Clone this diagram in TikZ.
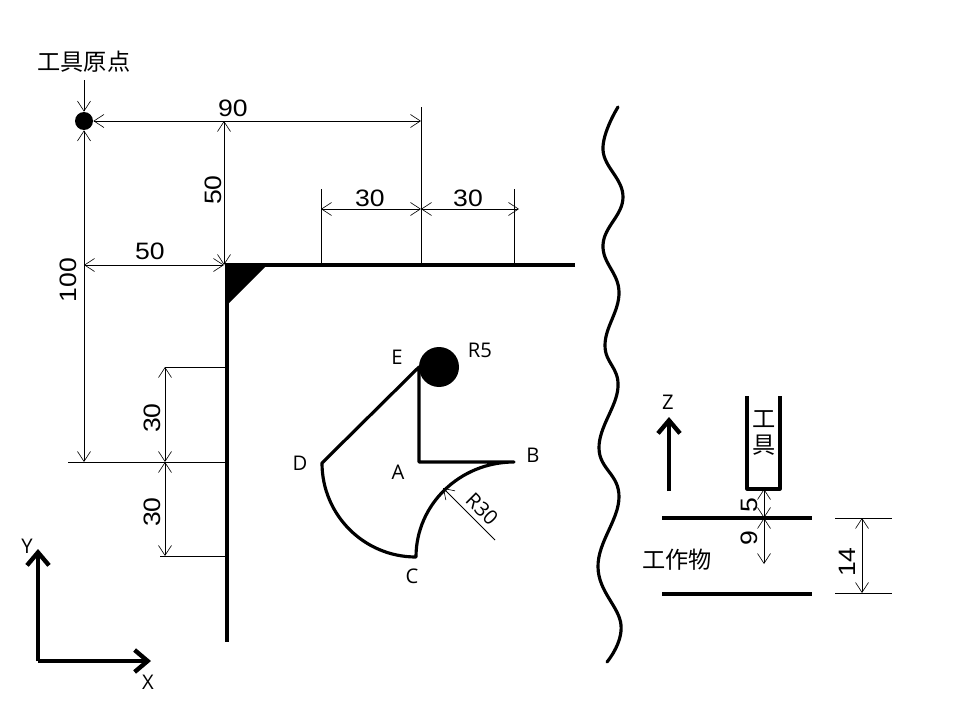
\documentclass[tikz,border=0pt]{standalone}
\usepackage{fontspec}
\setmainfont{Open Sans}
\newfontfamily\dimfont{Liberation Sans}
\newfontfamily\cjkfont{Noto Sans CJK JP}
\usetikzlibrary{arrows.meta}
\tikzset{
	dimline/.style={line width=0.5pt,{Straight Barb[length=2mm,width=2.6mm,line width=0.35pt]}-{Straight Barb[length=2mm,width=2.6mm,line width=0.35pt]}},
	dimarrow/.style={line width=0.5pt,-{Straight Barb[length=2mm,width=2.6mm,line width=0.35pt]}},
	extline/.style={line width=0.5pt},
	shapeline/.style={line width=1.8pt,line cap=round,line join=round},
	wallline/.style={line width=2.3pt},
	axisline/.style={line width=2.5pt,-{Straight Barb[length=2.6mm,width=4.4mm]}},
	dimtext/.style={font=\dimfont\fontsize{13.5}{14}\selectfont,inner sep=0pt,xscale=1.12},
	vdimtext/.style={font=\dimfont\fontsize{13.5}{14}\selectfont,inner sep=0pt,rotate=90,xscale=1.12},
	pointtext/.style={font=\fontsize{11.5}{12}\selectfont,inner sep=0pt},
	cjktext/.style={font=\cjkfont\fontsize{13.2}{14.7}\selectfont,inner sep=0pt,align=center},
}
\begin{document}
\begin{tikzpicture}[x=0.02cm,y=-0.02cm]
	\useasboundingbox (0,0) rectangle (960,720);

	\node(origin) at (84,121)[circle,fill=black,minimum size=0.36cm,inner sep=0pt]{};
	\node(tool) at (439,367)[circle,fill=black,minimum size=0.8cm,inner sep=0pt]{};
	\node(originlabel) at (84,62)[cjktext]{工具原点};
	\node(toollabel) at (764,433)[cjktext]{工\\具};
	\node(worklabel) at (677,560)[cjktext]{工作物};

	\coordinate(corner) at (227,265);
	\coordinate(wallx) at (575,265);
	\coordinate(wally) at (227,642);
	\coordinate(a) at (419,462);
	\coordinate(b) at (514,462);
	\coordinate(e) at (419,367);

	\draw[wallline] (wallx) -- (corner) -- (wally);
	\fill (corner) -- (267,265) -- (227,305) -- cycle;

	\draw[shapeline] (e) -- (a) -- (b) arc[start angle=270,end angle=180,x radius=98,y radius=95]
		coordinate(c) arc[start angle=90,end angle=180,radius=94] coordinate(d) -- (e);

	\draw[dimarrow] (84,80) coordinate(originstart) -- (origin.north);
	\coordinate(top90) at (421,121);
	\coordinate(mid50) at (224,121);
	\coordinate(end50) at (224,265);
	\coordinate(left50) at (84,265);
	\coordinate(end100) at (84,462);
	\draw[dimline] (origin.east) -- (top90);
	\draw[dimline] (mid50) -- (end50);
	\draw[dimline] (left50) -- (end50);
	\draw[dimline] (origin.south) -- (end100);

	\coordinate(top30a) at (321,209);
	\coordinate(top30b) at (421,209);
	\coordinate(top30c) at (519,209);
	\draw[dimline] (top30a) -- (top30b);
	\draw[dimline] (top30b) -- (top30c);
	\coordinate(left30a) at (165,367);
	\coordinate(left30b) at (165,462);
	\coordinate(left30c) at (165,556);
	\draw[dimline] (left30a) -- (left30b);
	\draw[dimline] (left30b) -- (left30c);

	\draw[extline] (421,107) coordinate(ext1) -- (421,265) coordinate(ext2);
	\draw[extline] (321,189) coordinate(ext3) -- (321,265) coordinate(ext4);
	\draw[extline] (514,189) coordinate(ext5) -- (514,265) coordinate(ext6);
	\draw[extline] (left30a) -- (227,367) coordinate(ext7);
	\draw[extline] (68,462) coordinate(ext8) -- (227,462) coordinate(ext9);
	\draw[extline] (160,556) coordinate(ext10) -- (227,556) coordinate(ext11);

	\coordinate(radiusstart) at (495,540);
	\coordinate(radiusend) at (443,488);
	\draw[dimarrow] (radiusstart) -- (radiusend);

	\node(dim90) at (233,108)[dimtext]{90};
	\node(dimv50) at (213,190)[vdimtext]{50};
	\node(dimh50) at (150,251)[dimtext]{50};
	\node(dim100) at (68,280)[vdimtext]{100};
	\node(dimt30a) at (370,198)[dimtext]{30};
	\node(dimt30b) at (468,198)[dimtext]{30};
	\node(diml30a) at (152,418)[vdimtext]{30};
	\node(diml30b) at (152,512)[vdimtext]{30};

	\node(labele) at (397,357)[pointtext]{E};
	\node(labela) at (398,472)[pointtext]{A};
	\node(labelb) at (533,455)[pointtext]{B};
	\node(labelc) at (412,576)[pointtext]{C};
	\node(labeld) at (300,463)[pointtext]{D};
	\node(labelr5) at (480,350)[pointtext]{R5};
	\node(labelr30) at (482,509)[pointtext,rotate=-45]{R30};

	\draw[line width=1.8pt,line cap=round] plot[smooth,tension=0.7] coordinates{(618,107) (603,150) (623,197) (603,245) (619,292) (605,345) (618,387) (599,448) (619,497) (598,567) (621,625) (607,662)};

	\coordinate(origz) at (38,661);
	\coordinate(axisx) at (151,661);
	\coordinate(axisy) at (38,549);
	\draw[axisline] (origz) -- (axisx);
	\draw[axisline] (origz) -- (axisy);
	\node(labelx) at (148,682)[pointtext]{X};
	\node(labely) at (27,546)[pointtext]{Y};

	\coordinate(zstart) at (669,491);
	\coordinate(zend) at (669,417);
	\draw[axisline] (zstart) -- (zend);
	\node(labelz) at (668,402)[pointtext]{Z};

	\coordinate(toola) at (747,396);
	\coordinate(toolb) at (747,489);
	\coordinate(toolc) at (780,489);
	\coordinate(toold) at (780,396);
	\draw[shapeline,line cap=butt] (toola) -- (toolb) -- (toolc) -- (toold);

	\coordinate(worka) at (662,518);
	\coordinate(workb) at (812,518);
	\coordinate(workc) at (662,594);
	\coordinate(workd) at (812,594);
	\draw[line width=1.8pt] (worka) -- (workb);
	\draw[line width=1.8pt] (workc) -- (workd);

	\coordinate(gap5a) at (764,489);
	\coordinate(gap5b) at (764,518);
	\coordinate(gap9b) at (764,564);
	\draw[dimline] (gap5a) -- (gap5b);
	\draw[dimline] (gap5b) -- (gap9b);
	\coordinate(h14a) at (862,518);
	\coordinate(h14b) at (862,593);
	\draw[dimline] (h14a) -- (h14b);
	\draw[extline] (835,518) coordinate(ext12) -- (892,518) coordinate(ext13);
	\draw[extline] (835,593) coordinate(ext14) -- (892,593) coordinate(ext15);

	\node(dim5) at (749,505)[vdimtext]{5};
	\node(dim9) at (749,538)[vdimtext]{9};
	\node(dim14) at (847,562)[vdimtext]{14};
\end{tikzpicture}
\end{document}
